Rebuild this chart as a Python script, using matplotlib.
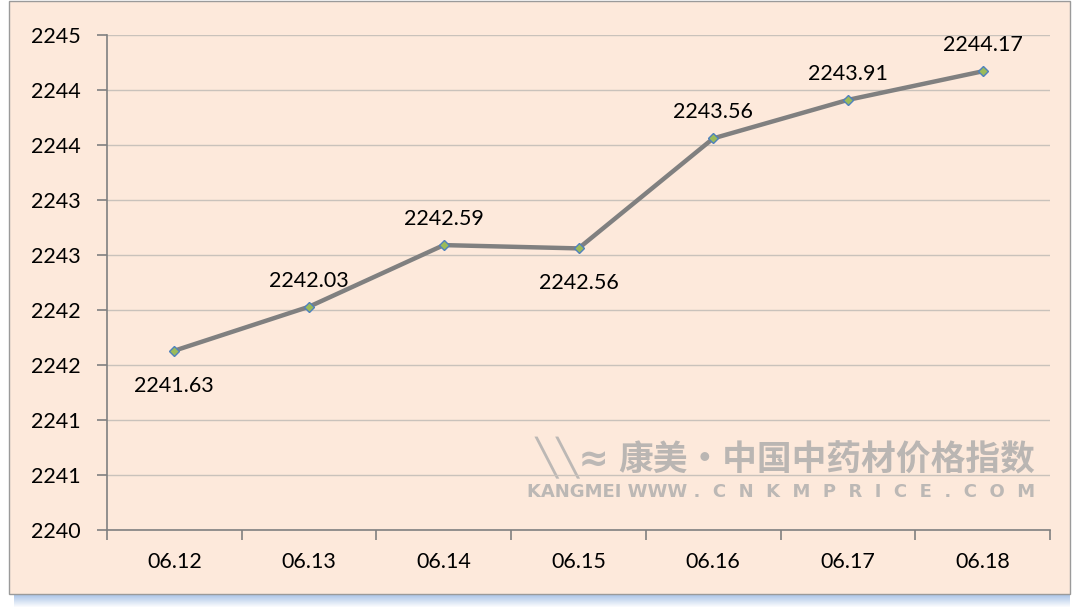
import matplotlib
matplotlib.use('Agg')
import matplotlib.pyplot as plt
from matplotlib.patches import Rectangle
from matplotlib.ticker import FixedLocator, FuncFormatter
import math

plt.rcParams['font.family'] = ['Lato', 'DejaVu Sans']

dates = ["06.12", "06.13", "06.14", "06.15", "06.16", "06.17", "06.18"]
values = [2241.63, 2242.03, 2242.59, 2242.56, 2243.56, 2243.91, 2244.17]
label_above = [False, True, True, False, True, True, True]

W, H = 1080, 613
fig = plt.figure(figsize=(W / 100, H / 100), dpi=100)
fig.patch.set_facecolor('white')

# blue shadow under the panel
for i in range(12):
    fig.patches.append(Rectangle((14 / W, (H - 596 - i) / H), 1056 / W, 1 / H,
                                 transform=fig.transFigure, facecolor='#6f9ad6',
                                 alpha=0.55 * (1 - i / 12), edgecolor='none', zorder=-2))
# peach panel
fig.patches.append(Rectangle((9 / W, (H - 594) / H), 1061 / W, 593 / H,
                             transform=fig.transFigure, facecolor='#fde9db',
                             edgecolor='#9a9a9a', linewidth=1.0, zorder=-1))

# watermark
fig.text(1035 / W, 1 - 460 / H, "康美·中国中药材价格指数", ha='right', va='center',
         fontsize=25, fontweight='bold', color='#bab6b3',
         family=['Noto Sans CJK SC', 'DejaVu Sans'], zorder=-0.5)
fig.text(1035 / W, 1 - 492 / H, "KANGMEI WWW .  C  N  K  M  P  R  I  C  E  .  C  O  M",
         ha='right', va='center', fontsize=13, fontweight='bold', color='#bcb8b5',
         family=['DejaVu Sans'], zorder=-0.5)
fig.text(572 / W, 1 - 458 / H, "\u2572\u2572\u2248", ha='center', va='center',
         fontsize=26, fontweight='bold', color='#bcb8b5', zorder=-0.5,
         family=['DejaVu Sans'])

ax = fig.add_axes([107 / W, 1 - 530 / H, (1050 - 107) / W, (530 - 35) / H])
ax.set_facecolor('none')
ax.set_zorder(3)

x = list(range(len(dates)))
ax.plot(x, values, color='#808080', linewidth=3.2, zorder=3,
        marker='D', markersize=5.5, markerfacecolor='#9bbb59',
        markeredgecolor='#4f81bd', markeredgewidth=1.0)

for xi, v, up in zip(x, values, label_above):
    ax.annotate(f"{v:.2f}", (xi, v), xytext=(0, 26 if up else -35),
                textcoords='offset pixels',
                ha='center', va='center', fontsize=15.5, color='black', zorder=4)

ax.set_xlim(-0.5, len(dates) - 0.5)
ax.set_ylim(2240, 2244.5)

yt = [2240 + 0.5 * i for i in range(10)]
ax.yaxis.set_major_locator(FixedLocator(yt))
ax.yaxis.set_major_formatter(FuncFormatter(lambda v, p: str(int(math.floor(v + 0.5)))))
ax.grid(axis='y', color='#c9c2bb', linewidth=1.0, zorder=0)

ax.set_xticks([i - 0.5 for i in range(len(dates) + 1)])
ax.set_xticklabels([])
ax.set_xticks(x, minor=True)
ax.set_xticklabels(dates, minor=True)
ax.tick_params(axis='x', which='major', length=7, color='#808080', width=1.2, direction='out')
ax.tick_params(axis='x', which='minor', length=0, pad=16, labelsize=15.5)
ax.tick_params(axis='y', length=7, color='#808080', width=1.2, labelsize=15.5, pad=12)

for s in ['top', 'right']:
    ax.spines[s].set_visible(False)
for s in ['left', 'bottom']:
    ax.spines[s].set_color('#808080')
    ax.spines[s].set_linewidth(1.2)

fig.savefig('out.png', dpi=100)
